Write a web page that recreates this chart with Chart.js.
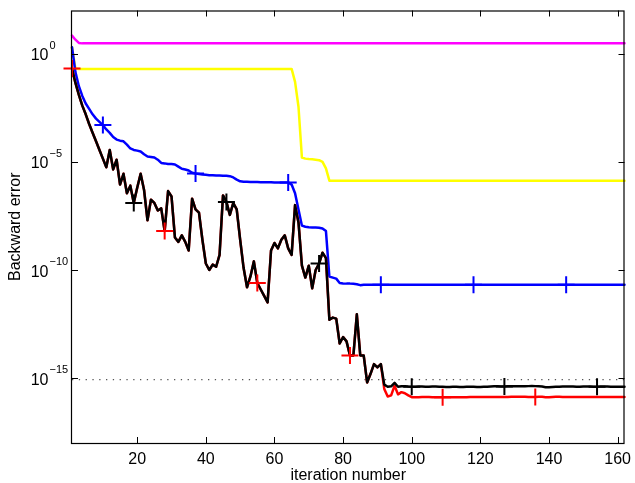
<!DOCTYPE html>
<html><head><meta charset="utf-8">
<script src="https://cdn.jsdelivr.net/npm/chart.js@4"></script>
<style>html,body{margin:0;padding:0;background:#fff}</style>
</head><body>
<canvas id="c" width="635" height="483"></canvas>
<script>
// ---- tick labels / texts ----
const xTicks = [20, 40, 60, 80, 100, 120, 140, 160];
const yTickExps = [0, -5, -10, -15];
const xTitle = 'iteration number';
const yTitle = 'Backward error';
const refLevel = 8.5e-16;

// ---- series values (log10 of backward error), iteration 1..162 ----
const blackLog = [
 -0.68,-1.35,-1.9,-2.4,-2.8,-3.25,-3.65,-4.05,-4.45,-4.85,
 -5.25,-4.45,-5.35,-4.9,-6.05,-5.55,-6.45,-6.1,-6.9,-6.2,
 -5.55,-6.3,-7.7,-6.75,-6.9,-7.25,-7.15,-8.2,-6.35,-6.6,
 -8.5,-8.7,-8.4,-8.7,-9.1,-6.7,-7.2,-7.35,-8.6,-9.7,
 -10.0,-9.75,-9.85,-9.3,-6.55,-6.85,-7.45,-6.9,-7.2,-8.6,
 -9.9,-10.8,-10.3,-9.6,-10.6,-10.9,-11.2,-11.5,-9.1,-8.75,
 -9.0,-8.6,-8.4,-9.0,-9.3,-7.0,-7.8,-9.8,-10.35,-9.8,
 -10.85,-10.0,-9.7,-9.2,-9.45,-12.3,-12.2,-12.25,-13.4,-13.1,
 -13.3,-13.95,-13.95,-12.05,-13.95,-13.95,-15.2,-14.8,-14.35,-14.5,
 -14.35,-15.3,-15.4,-15.38,-15.22,-15.4,-15.38,-15.37,-15.39,-15.4,
 -15.4,-15.39,-15.39,-15.4,-15.4,-15.39,-15.39,-15.4,-15.4,-15.41,
 -15.41,-15.4,-15.4,-15.41,-15.41,-15.4,-15.4,-15.4,-15.41,-15.41,
 -15.4,-15.4,-15.39,-15.38,-15.38,-15.39,-15.39,-15.38,-15.38,-15.37,
 -15.37,-15.38,-15.38,-15.37,-15.36,-15.37,-15.38,-15.39,-15.42,-15.42,
 -15.41,-15.4,-15.4,-15.39,-15.39,-15.39,-15.39,-15.4,-15.4,-15.39,
 -15.39,-15.39,-15.4,-15.4,-15.39,-15.39,-15.39,-15.4,-15.4,-15.4,
 -15.4,-15.4
];
const redLog = [
 -0.68,-1.35,-1.9,-2.4,-2.8,-3.25,-3.65,-4.05,-4.45,-4.85,
 -5.25,-4.45,-5.35,-4.9,-6.05,-5.55,-6.45,-6.1,-6.9,-6.2,
 -5.55,-6.3,-7.7,-6.75,-6.9,-7.25,-7.15,-8.2,-6.35,-6.6,
 -8.5,-8.7,-8.4,-8.7,-9.1,-6.7,-7.2,-7.35,-8.6,-9.7,
 -10.0,-9.75,-9.85,-9.3,-6.55,-6.85,-7.45,-6.9,-7.2,-8.6,
 -9.9,-10.8,-10.3,-9.6,-10.6,-10.9,-11.2,-11.5,-9.1,-8.75,
 -9.0,-8.6,-8.4,-9.0,-9.3,-7.0,-7.8,-9.8,-10.35,-9.8,
 -10.85,-10.0,-9.7,-9.2,-9.45,-12.3,-12.2,-12.25,-13.4,-13.1,
 -13.3,-13.95,-13.95,-12.05,-13.95,-13.95,-15.2,-14.8,-14.35,-14.5,
 -14.35,-15.5,-15.85,-15.8,-15.35,-15.75,-15.65,-15.7,-15.8,-15.88,
 -15.88,-15.88,-15.87,-15.87,-15.87,-15.88,-15.88,-15.89,-15.88,-15.88,
 -15.88,-15.89,-15.89,-15.88,-15.88,-15.88,-15.87,-15.87,-15.87,-15.87,
 -15.87,-15.87,-15.87,-15.87,-15.87,-15.87,-15.87,-15.87,-15.86,-15.86,
 -15.86,-15.86,-15.86,-15.87,-15.87,-15.87,-15.86,-15.86,-15.88,-15.88,
 -15.87,-15.86,-15.86,-15.87,-15.87,-15.87,-15.87,-15.87,-15.87,-15.87,
 -15.87,-15.87,-15.87,-15.87,-15.87,-15.87,-15.87,-15.87,-15.87,-15.87,
 -15.87,-15.87
];
const blueLog = [
 0.3,-0.85,-1.5,-1.95,-2.3,-2.55,-2.8,-3.0,-3.15,-3.3,
 -3.5,-3.66,-3.85,-3.97,-4.02,-4.05,-4.2,-4.38,-4.45,-4.48,
 -4.52,-4.65,-4.75,-4.77,-4.8,-4.9,-5.05,-5.07,-5.1,-5.1,
 -5.12,-5.22,-5.32,-5.35,-5.4,-5.5,-5.54,-5.56,-5.58,-5.6,
 -5.62,-5.62,-5.63,-5.63,-5.64,-5.64,-5.66,-5.72,-5.82,-5.9,
 -5.92,-5.92,-5.93,-5.93,-5.93,-5.94,-5.94,-5.94,-5.94,-5.95,
 -5.95,-5.95,-5.95,-5.95,-6.05,-6.45,-7.2,-7.95,-8.0,-8.02,
 -8.03,-8.04,-8.05,-8.08,-8.2,-10.3,-10.35,-10.4,-10.6,-10.62,
 -10.63,-10.63,-10.64,-10.66,-10.7,-10.68,-10.68,-10.68,-10.68,-10.68,
 -10.68,-10.68,-10.68,-10.68,-10.68,-10.68,-10.68,-10.68,-10.68,-10.68,
 -10.68,-10.68,-10.68,-10.68,-10.68,-10.68,-10.68,-10.68,-10.68,-10.68,
 -10.68,-10.68,-10.68,-10.68,-10.68,-10.68,-10.68,-10.68,-10.68,-10.68,
 -10.68,-10.68,-10.68,-10.68,-10.68,-10.68,-10.68,-10.68,-10.68,-10.68,
 -10.68,-10.68,-10.68,-10.68,-10.68,-10.68,-10.68,-10.68,-10.68,-10.68,
 -10.68,-10.68,-10.68,-10.68,-10.68,-10.68,-10.68,-10.68,-10.68,-10.68,
 -10.68,-10.68,-10.68,-10.68,-10.68,-10.68,-10.68,-10.68,-10.68,-10.68,
 -10.68,-10.68
];
const yellowLog = [
 0.3,-0.68,-0.7,-0.7,-0.7,-0.7,-0.7,-0.7,-0.7,-0.7,
 -0.7,-0.7,-0.7,-0.7,-0.7,-0.7,-0.7,-0.7,-0.7,-0.7,
 -0.7,-0.7,-0.7,-0.7,-0.7,-0.7,-0.7,-0.7,-0.7,-0.7,
 -0.7,-0.7,-0.7,-0.7,-0.7,-0.7,-0.7,-0.7,-0.7,-0.7,
 -0.7,-0.7,-0.7,-0.7,-0.7,-0.7,-0.7,-0.7,-0.7,-0.7,
 -0.7,-0.7,-0.7,-0.7,-0.7,-0.7,-0.7,-0.7,-0.7,-0.7,
 -0.7,-0.7,-0.7,-0.7,-0.7,-1.3,-2.45,-4.8,-4.85,-4.87,
 -4.88,-4.9,-4.92,-5.0,-5.3,-5.87,-5.87,-5.87,-5.87,-5.87,
 -5.87,-5.87,-5.87,-5.87,-5.87,-5.87,-5.87,-5.87,-5.87,-5.87,
 -5.87,-5.87,-5.87,-5.87,-5.87,-5.87,-5.87,-5.87,-5.87,-5.87,
 -5.87,-5.87,-5.87,-5.87,-5.87,-5.87,-5.87,-5.87,-5.87,-5.87,
 -5.87,-5.87,-5.87,-5.87,-5.87,-5.87,-5.87,-5.87,-5.87,-5.87,
 -5.87,-5.87,-5.87,-5.87,-5.87,-5.87,-5.87,-5.87,-5.87,-5.87,
 -5.87,-5.87,-5.87,-5.87,-5.87,-5.87,-5.87,-5.87,-5.87,-5.87,
 -5.87,-5.87,-5.87,-5.87,-5.87,-5.87,-5.87,-5.87,-5.87,-5.87,
 -5.87,-5.87,-5.87,-5.87,-5.87,-5.87,-5.87,-5.87,-5.87,-5.87,
 -5.87,-5.87
];
const magentaLog = [
 0.84,0.65,0.5,0.48,0.48,0.48,0.48,0.48,0.48,0.48,
 0.48,0.48,0.48,0.48,0.48,0.48,0.48,0.48,0.48,0.48,
 0.48,0.48,0.48,0.48,0.48,0.48,0.48,0.48,0.48,0.48,
 0.48,0.48,0.48,0.48,0.48,0.48,0.48,0.48,0.48,0.48,
 0.48,0.48,0.48,0.48,0.48,0.48,0.48,0.48,0.48,0.48,
 0.48,0.48,0.48,0.48,0.48,0.48,0.48,0.48,0.48,0.48,
 0.48,0.48,0.48,0.48,0.48,0.48,0.48,0.48,0.48,0.48,
 0.48,0.48,0.48,0.48,0.48,0.48,0.48,0.48,0.48,0.48,
 0.48,0.48,0.48,0.48,0.48,0.48,0.48,0.48,0.48,0.48,
 0.48,0.48,0.48,0.48,0.48,0.48,0.48,0.48,0.48,0.48,
 0.48,0.48,0.48,0.48,0.48,0.48,0.48,0.48,0.48,0.48,
 0.48,0.48,0.48,0.48,0.48,0.48,0.48,0.48,0.48,0.48,
 0.48,0.48,0.48,0.48,0.48,0.48,0.48,0.48,0.48,0.48,
 0.48,0.48,0.48,0.48,0.48,0.48,0.48,0.48,0.48,0.48,
 0.48,0.48,0.48,0.48,0.48,0.48,0.48,0.48,0.48,0.48,
 0.48,0.48,0.48,0.48,0.48,0.48,0.48,0.48,0.48,0.48,
 0.48,0.48
];
// marker every 27 iterations, first marker at iteration:
const redMarkStart = 1, blueMarkStart = 10, blackMarkStart = 19;
const markEvery = 27;

const iters = blackLog.map((_, k) => k + 1);
const pts = logs => logs.map((v, k) => ({ x: iters[k], y: Math.pow(10, v) }));

const FONT = "'Liberation Sans', Arial, Helvetica, sans-serif";

function lineDs(logs, color, order) {
  return { data: pts(logs), borderColor: color, borderWidth: 2.5, pointRadius: 0,
    borderJoinStyle: 'round', borderCapStyle: 'round', tension: 0, order: order, clip: false };
}
function markDs(logs, color, start, order) {
  return { data: pts(logs), showLine: false, borderColor: color, pointBorderColor: color,
    pointBackgroundColor: color, pointStyle: 'cross', pointBorderWidth: 2, order: order, clip: false,
    pointRadius: c => ((iters[c.dataIndex] - start) % markEvery === 0 ? 8.5 : 0), pointHoverRadius: 0 };
}

const axesPlugin = {
  id: 'matlabAxes',
  afterDatasetsDraw(chart) {
    const { ctx, chartArea: a, scales: { x, y } } = chart;
    ctx.save();
    ctx.strokeStyle = '#000'; ctx.lineWidth = 1.2;
    ctx.strokeRect(a.left - 0.5, a.top + 0.5, a.right - a.left, a.bottom - a.top);
    ctx.lineWidth = 1;
    ctx.beginPath();
    xTicks.forEach(t => {
      const px = Math.round(x.getPixelForValue(t)) + 0.5;
      ctx.moveTo(px, a.bottom); ctx.lineTo(px, a.bottom - 6);
      ctx.moveTo(px, a.top); ctx.lineTo(px, a.top + 6);
    });
    yTickExps.forEach(e => {
      const py = Math.round(y.getPixelForValue(Math.pow(10, e))) + 0.5;
      ctx.moveTo(a.left, py); ctx.lineTo(a.left + 6, py);
      ctx.moveTo(a.right, py); ctx.lineTo(a.right - 6, py);
    });
    ctx.stroke();
    ctx.fillStyle = '#000';
    ctx.font = '16px ' + FONT;
    ctx.textAlign = 'center'; ctx.textBaseline = 'alphabetic';
    xTicks.forEach(t => ctx.fillText(String(t), x.getPixelForValue(t), a.bottom + 20.5));
    yTickExps.forEach(e => {
      const py = y.getPixelForValue(Math.pow(10, e));
      ctx.font = '16px ' + FONT; ctx.textAlign = 'right';
      ctx.fillText('10', a.left - 23.5, py + 6.5);
      ctx.font = '11px ' + FONT; ctx.textAlign = 'left';
      ctx.fillText(e === 0 ? '0' : '\u2212' + Math.abs(e), a.left - 22.5, py - 5);
    });
    ctx.font = '16px ' + FONT; ctx.textAlign = 'center';
    ctx.fillText(xTitle, (a.left + a.right) / 2, 480);
    ctx.translate(20, (a.top + a.bottom) / 2);
    ctx.rotate(-Math.PI / 2);
    ctx.fillText(yTitle, 0, 0);
    ctx.restore();
  }
};

new Chart(document.getElementById('c'), {
  type: 'line',
  data: { datasets: [
    markDs(redLog, '#ff0000', redMarkStart, 0),
    markDs(blackLog, '#000000', blackMarkStart, 1),
    markDs(blueLog, '#0000ff', blueMarkStart, 2),
    lineDs(blackLog, '#000000', 3),
    lineDs(redLog, '#ff0000', 4),
    lineDs(blueLog, '#0000ff', 5),
    lineDs(yellowLog, '#ffff00', 6),
    lineDs(magentaLog, '#ff00ff', 7),
    { data: [{ x: 1, y: refLevel }, { x: 162, y: refLevel }], borderColor: '#555', borderWidth: 1.3,
      borderDash: [1.3, 5.5], pointRadius: 0, order: 8 }
  ] },
  options: {
    responsive: false, animation: false, devicePixelRatio: 1,
    layout: { padding: { left: 72, right: 10, top: 7, bottom: 40 } },
    plugins: { legend: { display: false }, tooltip: { enabled: false } },
    events: [],
    scales: {
      x: { type: 'linear', min: 1, max: 162, display: false },
      y: { type: 'logarithmic', min: 1e-18, max: 1e2, display: false }
    }
  },
  plugins: [axesPlugin]
});
</script>
</body></html>
